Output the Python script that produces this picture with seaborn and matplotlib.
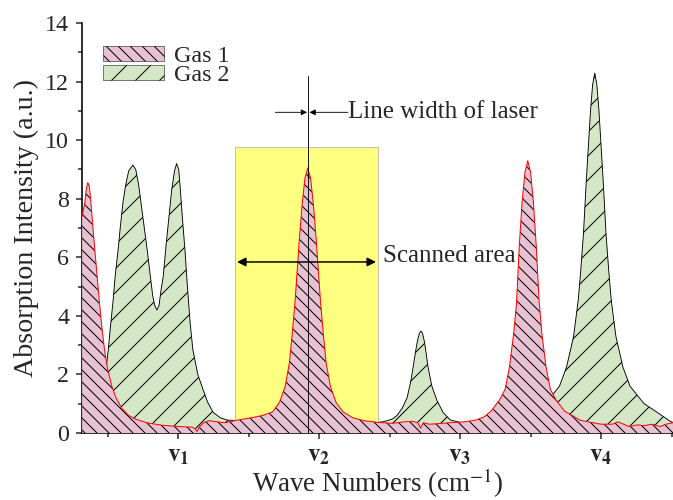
import numpy as np
import matplotlib
matplotlib.use('Agg')
import matplotlib.pyplot as plt
import seaborn as sns
from matplotlib.patches import Patch, Rectangle

# Datos (posicion en unidades v, intensidad en u.a.)
gas1_x = [0.32, 0.34, 0.35, 0.36, 0.37, 0.38, 0.39, 0.40, 0.42, 0.44, 0.46, 0.48, 0.50,
          0.53, 0.56, 0.60, 0.65, 0.70, 0.78, 0.88, 1.00, 1.10, 1.12, 1.135, 1.15,
          1.18, 1.22, 1.28, 1.33, 1.40, 1.47, 1.52, 1.60, 1.67, 1.72, 1.76, 1.79,
          1.81, 1.83, 1.84, 1.86, 1.88, 1.90, 1.92, 1.94, 1.96, 1.98, 2.00, 2.01,
          2.03, 2.05, 2.08, 2.12, 2.17, 2.24, 2.32, 2.42, 2.52, 2.60, 2.66, 2.70,
          2.72, 2.74, 2.78, 2.85, 2.95, 3.03, 3.11, 3.17, 3.22, 3.28, 3.32, 3.35,
          3.38, 3.40, 3.42, 3.44, 3.46, 3.48, 3.50, 3.52, 3.54, 3.56, 3.58, 3.61,
          3.64, 3.68, 3.74, 3.85, 3.93, 4.00, 4.08, 4.12, 4.16, 4.20, 4.26, 4.30,
          4.36, 4.42, 4.46, 4.51]
gas1_y = [7.4, 7.9, 8.35, 8.55, 8.45, 8.0, 7.4, 6.8, 5.7, 4.6, 3.6, 2.8, 2.2,
          1.6, 1.2, 0.85, 0.6, 0.47, 0.35, 0.27, 0.22, 0.2, 0.15, 0.05, 0.2,
          0.35, 0.42, 0.38, 0.35, 0.42, 0.48, 0.52, 0.6, 0.72, 1.05, 1.6, 2.4,
          3.4, 4.5, 5.2, 6.6, 7.8, 8.7, 9.05, 8.7, 7.8, 6.6, 5.2, 4.5,
          3.4, 2.4, 1.6, 1.05, 0.72, 0.52, 0.42, 0.36, 0.33, 0.38, 0.4, 0.35,
          0.17, 0.35, 0.3, 0.32, 0.36, 0.38, 0.44, 0.55, 0.75, 1.13, 1.5, 2.25,
          3.4, 4.4, 6.4, 7.9, 8.9, 9.3, 8.9, 7.9, 6.4, 4.54, 3.4, 2.25,
          1.5, 1.13, 0.75, 0.44, 0.36, 0.3, 0.3, 0.38, 0.3, 0.22, 0.28, 0.25,
          0.3, 0.22, 0.3, 0.35]

gas2_x = [0.32, 0.40, 0.45, 0.47, 0.49, 0.505, 0.52, 0.54, 0.555, 0.575, 0.59, 0.61,
          0.63, 0.65, 0.68, 0.70, 0.72, 0.75, 0.78, 0.80, 0.82, 0.835, 0.85, 0.865,
          0.88, 0.894, 0.915, 0.936, 0.955, 0.975, 0.99, 1.005, 1.015, 1.03, 1.05,
          1.065, 1.085, 1.105, 1.14, 1.18, 1.21, 1.25, 1.30, 1.35, 1.45, 1.60, 1.80,
          2.00, 2.20, 2.40, 2.45, 2.482, 2.52, 2.553, 2.59, 2.624, 2.65, 2.667, 2.685,
          2.70, 2.713, 2.723, 2.733, 2.748, 2.76, 2.773, 2.80, 2.837, 2.88, 2.929,
          3.00, 3.20, 3.40, 3.50, 3.60, 3.655, 3.705, 3.755, 3.805, 3.838, 3.855,
          3.875, 3.895, 3.91, 3.925, 3.94, 3.955, 3.97, 3.985, 4.00, 4.015, 4.035,
          4.055, 4.072, 4.105, 4.155, 4.205, 4.255, 4.305, 4.40, 4.49, 4.51]
gas2_y = [0.5, 0.8, 1.3, 1.6, 2.2, 2.83, 3.6, 4.54, 5.4, 6.25, 7.0, 7.9,
          8.5, 8.95, 9.15, 9.0, 8.5, 7.4, 6.3, 5.5, 4.7, 4.35, 4.2, 4.35,
          4.9, 5.3, 6.4, 7.4, 8.3, 8.95, 9.2, 9.0, 8.4, 7.4, 6.2,
          5.1, 3.8, 2.85, 2.0, 1.45, 1.05, 0.7, 0.52, 0.44, 0.42, 0.4, 0.4,
          0.4, 0.38, 0.36, 0.38, 0.42, 0.48, 0.6, 0.85, 1.2, 1.75, 2.25, 2.8,
          3.2, 3.42, 3.48, 3.42, 3.1, 2.7, 2.25, 1.6, 1.1, 0.7, 0.45,
          0.36, 0.35, 0.5, 0.7, 1.0, 1.3, 1.6, 2.25, 3.3, 4.54, 5.5,
          6.8, 8.6, 9.8, 11.0, 11.9, 12.29, 11.9, 11.0, 9.8, 8.6, 6.8,
          5.5, 4.54, 3.3, 2.25, 1.6, 1.3, 1.0, 0.7, 0.4, 0.36]

tick_pos = [1, 2, 3, 4]
tick_labels = [r'$\mathbf{v_1}$', r'$\mathbf{v_2}$', r'$\mathbf{v_3}$', r'$\mathbf{v_4}$']

scan_range = [1.404, 2.418]
scan_top = 9.76
laser_pos = 1.92

sns.set_style('ticks')
plt.rcParams['font.family'] = ['Liberation Serif', 'DejaVu Serif']
plt.rcParams['mathtext.fontset'] = 'stix'
plt.rcParams['hatch.linewidth'] = 1.0

color_gas1 = '#e8c1d3'
color_gas2 = '#d4e8c8'

# a 72 dpi un punto es un pixel
fig = plt.figure(figsize=(673 / 72, 500 / 72), dpi=72)
ax = fig.add_axes([82 / 673, 67 / 500, 1 - 82 / 673, 410 / 500])

# Gas 2 (detras)
ax.fill_between(gas2_x, 0, gas2_y, facecolor=color_gas2, edgecolor='black',
                hatch='/', linewidth=0, zorder=1)
sns.lineplot(x=gas2_x, y=gas2_y, ax=ax, color='black', linewidth=0.9,
             sort=False, zorder=2)

# Area escaneada
ax.add_patch(Rectangle((scan_range[0], 0), scan_range[1] - scan_range[0], scan_top,
                       facecolor='#ffff80', edgecolor='#b0b0b0', linewidth=0.8,
                       zorder=2.5))

# Gas 1 (delante)
ax.fill_between(gas1_x, 0, gas1_y, facecolor=color_gas1, edgecolor='black',
                hatch='\\\\', linewidth=0, zorder=3)
sns.lineplot(x=gas1_x, y=gas1_y, ax=ax, color='red', linewidth=1.0,
             sort=False, zorder=4)

# Linea del laser
ax.plot([laser_pos, laser_pos], [0, 12.2], color='black', linewidth=0.9, zorder=5)
ax.annotate('', xy=(laser_pos - 0.005, 10.95), xytext=(1.69, 10.95),
            arrowprops=dict(arrowstyle='-|>', color='black', lw=0.9,
                            shrinkA=0, shrinkB=0, mutation_scale=12), zorder=6)
ax.annotate('', xy=(laser_pos + 0.012, 10.95), xytext=(2.205, 10.95),
            arrowprops=dict(arrowstyle='-|>', color='black', lw=0.9,
                            shrinkA=0, shrinkB=0, mutation_scale=12), zorder=6)
ax.text(2.208, 10.95, 'Line width of laser', fontsize=25, va='center', ha='left')

ax.annotate('', xy=(1.418, 5.84), xytext=(2.404, 5.84),
            arrowprops=dict(arrowstyle='<|-|>', color='black', lw=1.5,
                            shrinkA=0, shrinkB=0, mutation_scale=18), zorder=6)
ax.text(2.45, 6.05, 'Scanned area', fontsize=25, va='center', ha='left')

# Ejes
ax.set_xlim(0.319, 4.51)
ax.set_ylim(0, 14)
ax.set_xticks(tick_pos)
ax.set_xticklabels(tick_labels, fontsize=25)
ax.set_xticks([0.5, 1.5, 2.5, 3.5, 4.5], minor=True)
ax.set_yticks(range(0, 15, 2))
ax.set_yticks(range(1, 14, 2), minor=True)
ax.tick_params(axis='y', labelsize=24, pad=7)
ax.tick_params(which='major', length=6, width=1.5, direction='out')
ax.tick_params(which='minor', length=4, width=1.5, direction='out')
ax.tick_params(axis='x', pad=6)
for side in ['top', 'right']:
    ax.spines[side].set_visible(False)
for side in ['left', 'bottom']:
    ax.spines[side].set_linewidth(1.6)
    ax.spines[side].set_color('black')

ax.set_xlabel(r'Wave Numbers (cm$^{-1}$)', fontsize=27, labelpad=0)
ax.set_ylabel('Absorption Intensity (a.u.)', fontsize=28, labelpad=6)

handles = [Patch(facecolor=color_gas1, edgecolor='black', hatch='\\\\', linewidth=0.5),
           Patch(facecolor=color_gas2, edgecolor='black', hatch='/', linewidth=0.5)]
ax.legend(handles, ['Gas 1', 'Gas 2'], loc='upper left', frameon=False,
          fontsize=24, handlelength=2.55, handleheight=0.62, labelspacing=-0.08,
          handletextpad=0.38, borderpad=0, borderaxespad=0,
          bbox_to_anchor=(0.036, 0.945))

fig.savefig('out.png', dpi=72)
